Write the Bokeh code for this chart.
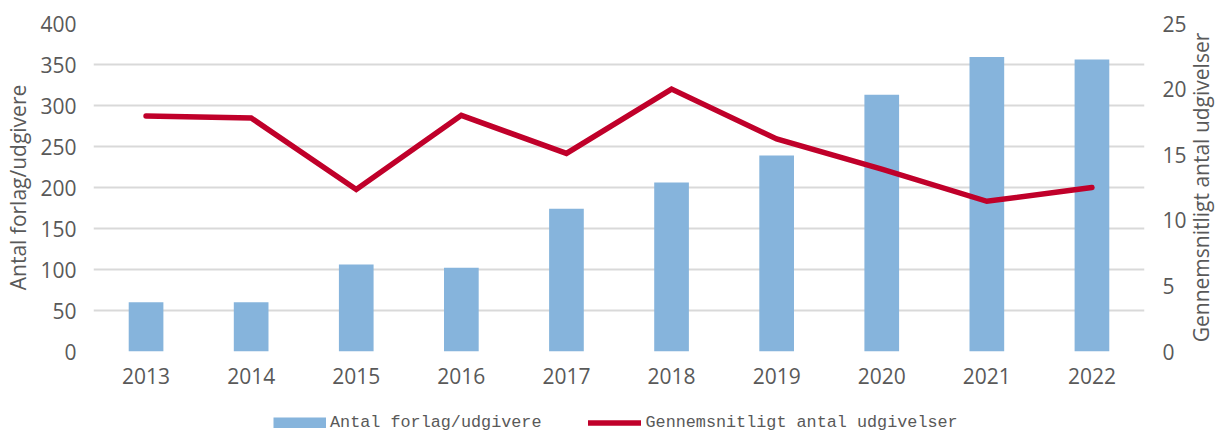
from bokeh.plotting import figure
from bokeh.layouts import column, row
from bokeh.models import (ColumnDataSource, Range1d, LinearAxis, FixedTicker,
                          Legend, LegendItem, FactorRange)
from bokeh.embed import file_html
from bokeh.resources import INLINE

years = ["2013", "2014", "2015", "2016", "2017", "2018", "2019", "2020", "2021", "2022"]
publishers = [60, 60, 106, 102, 174, 206, 239, 313, 359, 356]
avg_releases = [17.95, 17.8, 12.35, 18.0, 15.1, 20.0, 16.2, 13.9, 11.45, 12.5]
left_ticks = [0, 50, 100, 150, 200, 250, 300, 350, 400]
right_ticks = [0, 5, 10, 15, 20, 25]

bar_label = "Antal forlag/udgivere"
line_label = "Gennemsnitligt antal udgivelser"

BAR = "#86B4DC"
LINE = "#C0002A"
TXT = "#595959"
GRID = "#D9D9D9"
FONT = "Open Sans"

MAIN_H = 397
TOP = 23
BOTTOM = 46

src = ColumnDataSource(dict(year=years, pub=publishers, avg=avg_releases))

p = figure(x_range=FactorRange(*years, range_padding=0), y_range=Range1d(0, 400),
           width=1189, height=MAIN_H, output_backend="svg", toolbar_location=None,
           min_border_left=93, min_border_right=40, min_border_top=TOP,
           min_border_bottom=BOTTOM)
p.outline_line_color = None
p.background_fill_color = "white"
p.border_fill_color = "white"

p.extra_y_ranges = {"right": Range1d(0, 25)}

bars = p.vbar(x="year", top="pub", width=0.33, source=src, fill_color=BAR, line_color=None)
ln = p.line(x="year", y="avg", source=src, y_range_name="right", line_color=LINE,
            line_width=5.5, line_join="miter", line_cap="round")


def style_axis(ax, standoff):
    ax.axis_line_color = None
    ax.major_tick_line_color = None
    ax.minor_tick_line_color = None
    ax.major_tick_out = 0
    ax.major_tick_in = 0
    ax.minor_tick_out = 0
    ax.minor_tick_in = 0
    ax.major_label_text_font = FONT
    ax.major_label_text_font_size = "21px"
    ax.major_label_text_color = TXT
    ax.major_label_standoff = standoff
    ax.axis_label_text_font = FONT
    ax.axis_label_text_font_size = "21px"
    ax.axis_label_text_font_style = "normal"
    ax.axis_label_text_color = TXT


xa = p.xaxis[0]
style_axis(xa, 16)

ya = p.yaxis[0]
ya.ticker = FixedTicker(ticks=left_ticks)
style_axis(ya, 17)
ya.axis_label = bar_label
ya.axis_label_standoff = 5

ra = LinearAxis(y_range_name="right", ticker=FixedTicker(ticks=right_ticks))
style_axis(ra, 18)
p.add_layout(ra, "right")

p.xgrid.grid_line_color = None
p.ygrid.grid_line_color = GRID
p.ygrid.grid_line_width = 2
p.ygrid.ticker = FixedTicker(ticks=left_ticks)

# right-hand axis title (reads bottom-to-top, like the reference)
tf = figure(width=25, height=MAIN_H, output_backend="svg", toolbar_location=None,
            x_range=Range1d(0, 1), y_range=Range1d(0, 1),
            min_border_left=0, min_border_right=0, min_border_top=TOP,
            min_border_bottom=BOTTOM)
tf.outline_line_color = None
tf.grid.visible = False
tf.xaxis.visible = False
ta = tf.yaxis[0]
ta.ticker = FixedTicker(ticks=[])
ta.axis_line_color = None
ta.major_tick_out = 0
ta.major_tick_in = 0
ta.minor_tick_out = 0
ta.major_label_standoff = 0
ta.major_label_text_font_size = "0px"
ta.axis_label = line_label
ta.axis_label_standoff = 0
ta.axis_label_text_font = FONT
ta.axis_label_text_font_size = "21px"
ta.axis_label_text_line_height = 1.0
ta.axis_label_text_font_style = "normal"
ta.axis_label_text_color = TXT

# legend strip below the chart
lg = figure(width=1214, height=35, output_backend="svg", toolbar_location=None,
            x_range=Range1d(0, 1), y_range=Range1d(0, 1),
            min_border_left=0, min_border_right=0, min_border_top=0, min_border_bottom=0)
lg.axis.visible = False
lg.grid.visible = False
lg.outline_line_color = None
dummy = ColumnDataSource(dict(x=[5, 6], y=[5, 6]))
r_bar = lg.line(x="x", y="y", source=dummy, line_color=BAR, line_width=11, line_cap="butt")
r_line = lg.line(x="x", y="y", source=dummy, line_color=LINE, line_width=5.5, line_cap="round")

legend = Legend(items=[LegendItem(label=bar_label, renderers=[r_bar]),
                       LegendItem(label=line_label, renderers=[r_line])],
                orientation="horizontal", location=(273, 0),
                glyph_width=53, glyph_height=11, label_standoff=4, spacing=47,
                padding=0, margin=0, border_line_color=None,
                background_fill_alpha=0,
                label_text_font="Liberation Mono", label_text_font_size="16.8px",
                label_text_color=TXT, label_height=20)
lg.add_layout(legend, "center")

layout = column(row(p, tf, spacing=0), lg, spacing=0)
open("out.html", "w").write(file_html(layout, INLINE))
